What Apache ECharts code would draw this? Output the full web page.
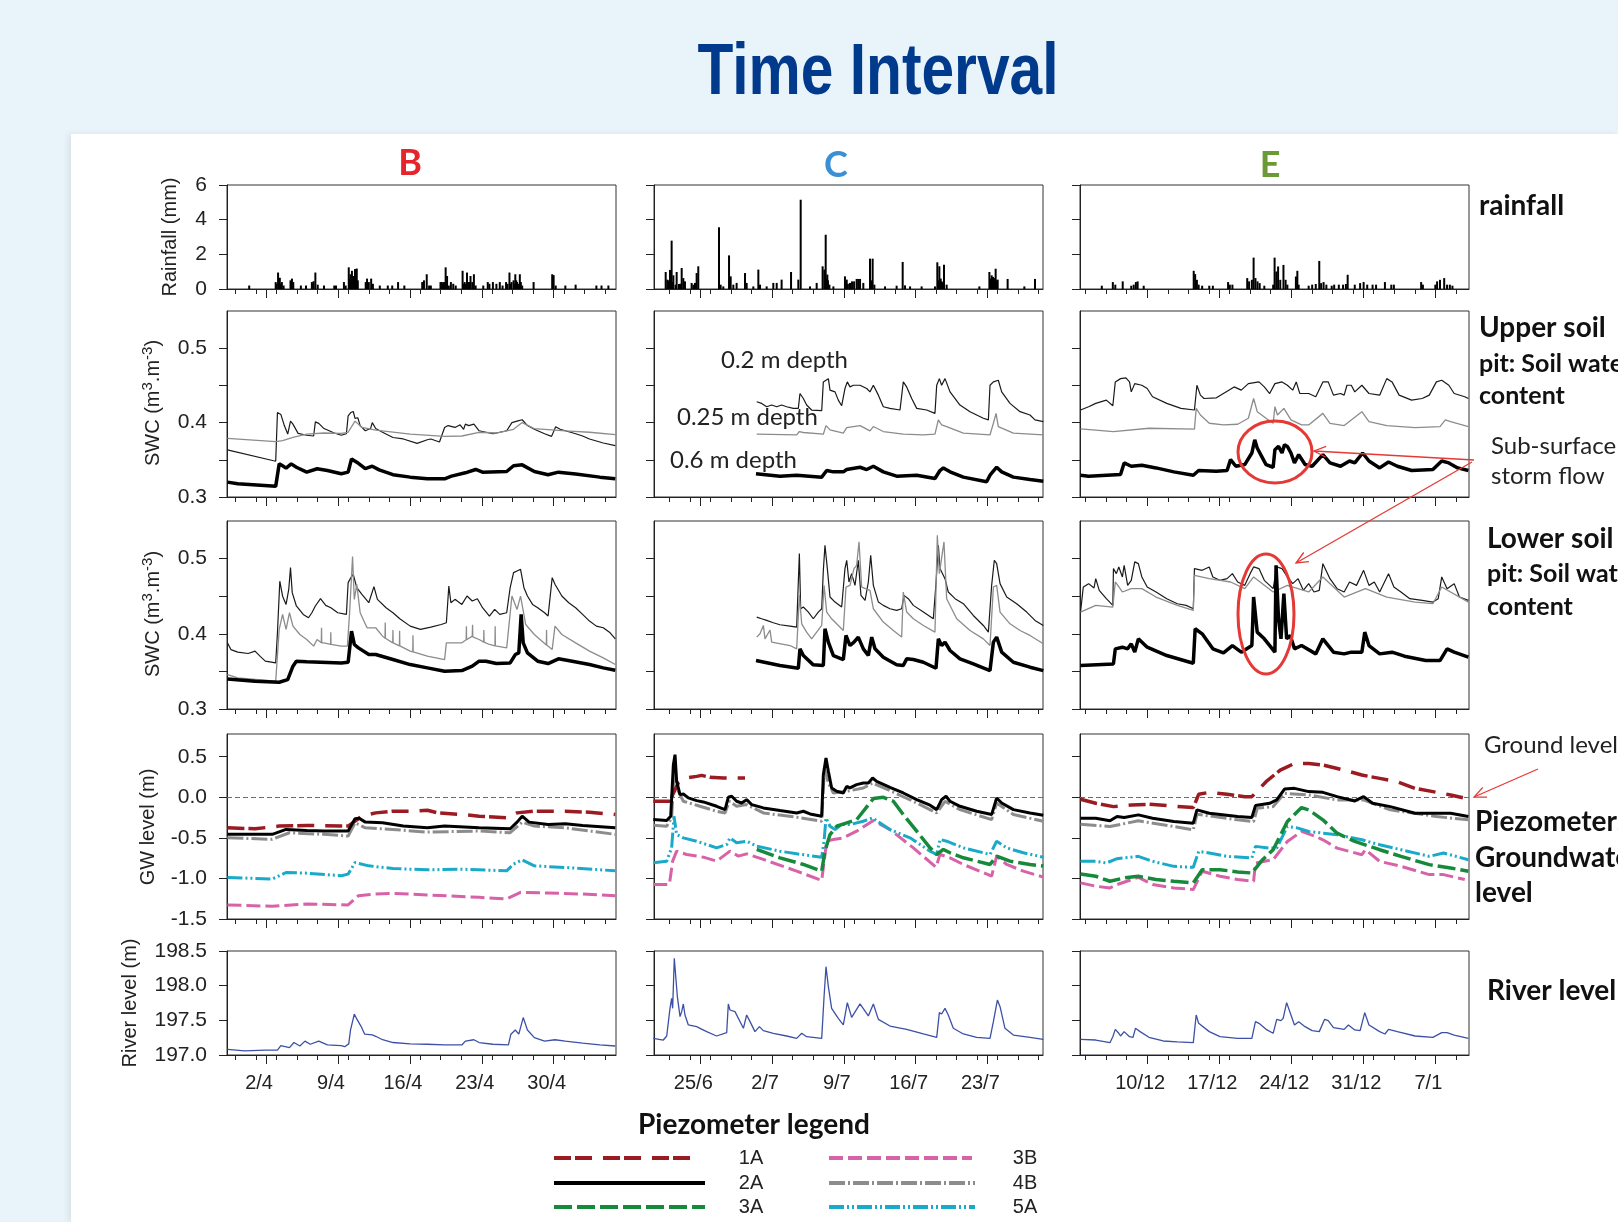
<!DOCTYPE html>
<html><head><meta charset="utf-8">
<script src="https://cdn.jsdelivr.net/npm/echarts@6/dist/echarts.min.js"></script>
<style>
html,body{margin:0;padding:0;background:#e9f3fa;overflow:hidden;width:1618px;height:1222px;}
#panel{position:absolute;left:71px;top:134px;width:1547px;height:1088px;background:#fff;box-shadow:-3px 0 6px rgba(0,0,0,0.07);}
#chart{position:absolute;left:0;top:0;width:1618px;height:1222px;}
</style></head>
<body><div id="panel"></div><div id="chart"></div>
<script>
// ---------------- tick labels / axes ----------------
const B_majorTicks=[0,7,14,21,28];
const B_tickLabels=['2/4','9/4','16/4','23/4','30/4'];
const B_minorTicks=[-3,-1,1,3,5,8,10,12,15,17,19,22,24,26,29,31,33];
const B_range=[-3.8,34.06];
const C_majorTicks=[0,7,14,21,28];
const C_tickLabels=['25/6','2/7','9/7','16/7','23/7'];
const C_minorTicks=[-3,-1,1,3,5,9,11,13,15,17,19,23,25,27,29,31,33];
const C_range=[-4.52,33.43];
const E_majorTicks=[0,7,14,21,28];
const E_tickLabels=['10/12','17/12','24/12','31/12','7/1'];
const E_minorTicks=[-6,-4,-2,2,4,6,8,10,12,16,18,20,22,24,26,30];
const E_range=[-6.53,31.27];
const RAIN_TICKS=[0,2,4,6];
const SWC_TICKS=[0.3,0.35,0.4,0.45,0.5];
const SWC_LABELS=[0.3,0.4,0.5];
const GW_TICKS=[-1.5,-1,-0.5,0,0.5];
const RIVER_TICKS=[197,197.5,198,198.5];

// ---------------- column B (days from 2/4) ----------------
const B_rain=[[-1.64,0.2],[0.94,0.4],[1.0,0.3],[1.17,0.95],[1.25,0.5],[1.34,0.65],[1.45,0.3],[1.54,0.4],[1.71,0.2],[2.38,0.5],[2.45,0.3],[2.52,0.6],[2.65,0.4],[3.39,0.2],[3.89,0.2],[4.46,0.4],[4.55,0.3],[4.63,0.45],[4.8,0.95],[5.03,0.25],[5.64,0.2],[6.64,0.2],[6.81,0.2],[7.58,0.4],[7.75,0.2],[8.05,1.25],[8.1,0.6],[8.22,0.85],[8.3,0.5],[8.36,1.05],[8.49,0.75],[8.55,0.6],[8.66,1.15],[8.75,0.5],[8.83,1.18],[8.93,0.5],[9.7,0.4],[9.83,0.6],[10.0,0.4],[10.23,0.6],[10.4,0.3],[11.07,0.2],[11.85,0.2],[12.28,0.2],[12.85,0.4],[13.46,0.2],[15.2,0.4],[15.37,0.5],[15.64,0.85],[15.87,0.2],[16.04,0.2],[16.98,0.4],[17.11,0.4],[17.2,0.3],[17.28,0.4],[17.4,0.4],[17.48,1.25],[17.55,0.45],[17.62,0.75],[17.79,0.2],[17.99,0.4],[18.22,0.3],[18.46,0.2],[19.13,1.05],[19.2,0.3],[19.33,0.4],[19.45,0.3],[19.56,0.95],[19.65,0.4],[19.77,0.4],[19.9,0.75],[20.07,0.4],[20.23,0.85],[20.4,0.2],[21.14,0.2],[21.58,0.4],[21.74,0.3],[22.08,0.4],[22.42,0.3],[22.75,0.4],[23.02,0.2],[23.36,0.4],[23.5,0.3],[23.69,0.95],[23.8,0.3],[23.89,0.4],[24.09,0.5],[24.15,0.3],[24.26,0.85],[24.35,0.5],[24.43,0.4],[24.55,0.3],[24.7,0.85],[24.8,0.4],[24.93,0.2],[26.04,0.4],[27.85,0.85],[27.99,0.8],[28.19,0.2],[29.13,0.2],[30.13,0.25],[32.15,0.2],[32.65,0.2],[33.32,0.2]];
const B_up20=[[-3.76,0.3633],[0.94,0.348],[1.11,0.4136],[1.44,0.411],[1.78,0.396],[2.11,0.3846],[2.38,0.402],[2.62,0.398],[3.12,0.3855],[3.96,0.383],[4.63,0.382],[4.8,0.401],[5.13,0.399],[5.64,0.392],[6.64,0.386],[7.32,0.383],[7.82,0.385],[7.99,0.409],[8.26,0.4136],[8.49,0.415],[8.66,0.4056],[8.93,0.4065],[9.16,0.396],[9.66,0.389],[10.17,0.392],[10.34,0.4],[10.67,0.392],[11.34,0.387],[12.35,0.38],[13.36,0.378],[14.7,0.372],[15.7,0.377],[16.04,0.378],[16.88,0.374],[17.38,0.3935],[17.72,0.396],[18.39,0.3935],[18.89,0.397],[19.23,0.391],[19.4,0.398],[19.73,0.396],[20.23,0.398],[20.74,0.389],[21.41,0.387],[22.08,0.385],[22.75,0.387],[23.42,0.389],[23.93,0.4],[24.43,0.402],[24.93,0.4038],[25.44,0.396],[26.11,0.391],[27.11,0.385],[27.79,0.3815],[28.19,0.3944],[28.62,0.391],[29.13,0.389],[30.13,0.385],[30.81,0.382],[31.48,0.378],[32.82,0.3726],[33.99,0.369]];
const B_up25=[[-3.76,0.3788],[0.94,0.3744],[1.61,0.3757],[2.62,0.38],[3.96,0.3846],[5.64,0.386],[7.32,0.3855],[7.99,0.387],[8.66,0.402],[9.33,0.3935],[10.67,0.39],[14.03,0.3846],[17.38,0.3815],[19.06,0.382],[20.74,0.387],[22.42,0.386],[24.09,0.391],[24.93,0.4],[26.11,0.392],[29.13,0.389],[31.48,0.387],[33.99,0.3837]];
const B_up60=[[-3.76,0.32],[-2.75,0.3178],[0.94,0.3143],[1.28,0.3445],[1.61,0.342],[1.95,0.3388],[2.45,0.3445],[2.95,0.34],[3.96,0.3334],[4.97,0.338],[5.97,0.3356],[7.32,0.3312],[7.99,0.3334],[8.32,0.3512],[8.83,0.3468],[9.66,0.338],[10.34,0.3414],[11.01,0.3365],[12.35,0.33],[14.03,0.3267],[15.7,0.3245],[17.38,0.3245],[18.05,0.328],[19.4,0.3325],[20.4,0.337],[21.07,0.3334],[23.42,0.3343],[24.09,0.342],[24.93,0.3432],[26.11,0.3343],[27.45,0.33],[28.46,0.3334],[30.13,0.331],[32.48,0.3267],[33.99,0.3245]];
const B_lo20=[[-3.76,0.388],[-3.42,0.379],[-2.75,0.3756],[-1.74,0.3738],[-1.07,0.377],[-0.57,0.37],[-0.07,0.3636],[0.94,0.3613],[1.11,0.4013],[1.34,0.47],[1.61,0.45],[1.95,0.439],[2.21,0.459],[2.38,0.488],[2.55,0.4547],[2.95,0.437],[3.62,0.4258],[4.13,0.4213],[4.46,0.428],[4.8,0.437],[5.3,0.4467],[5.81,0.4378],[6.31,0.4347],[6.98,0.428],[7.82,0.4258],[7.99,0.468],[8.26,0.4747],[8.49,0.479],[8.83,0.4613],[9.33,0.4524],[10.0,0.4413],[10.5,0.4627],[10.84,0.4458],[11.68,0.4347],[12.35,0.428],[13.02,0.42],[14.03,0.4102],[15.03,0.4058],[16.04,0.4089],[17.05,0.4124],[17.55,0.4147],[17.79,0.4636],[17.99,0.4413],[18.39,0.4458],[19.06,0.4391],[19.56,0.4502],[20.07,0.4436],[20.57,0.4467],[21.07,0.4347],[21.74,0.4236],[22.25,0.4324],[22.75,0.4258],[23.42,0.428],[23.76,0.4613],[24.09,0.4813],[24.43,0.4836],[24.77,0.4858],[25.1,0.4613],[25.44,0.4502],[25.94,0.4391],[26.44,0.4347],[27.11,0.428],[27.45,0.4236],[27.85,0.4747],[28.12,0.4658],[28.79,0.4502],[29.46,0.4413],[30.13,0.4347],[30.81,0.4258],[31.48,0.4169],[32.15,0.4102],[32.82,0.408],[33.49,0.4013],[33.99,0.3933]];
const B_lo25=[[-3.76,0.3458],[-2.75,0.3413],[-0.74,0.339],[0.94,0.3369],[1.28,0.4058],[1.61,0.4258],[1.95,0.4058],[2.28,0.428],[2.62,0.4102],[3.29,0.3991],[3.96,0.3924],[4.63,0.3836],[4.97,0.3924],[5.38,0.388],[5.4,0.408],[5.42,0.388],[5.64,0.388],[6.28,0.386],[6.3,0.402],[6.32,0.386],[7.32,0.3836],[7.92,0.3836],[8.15,0.4324],[8.42,0.5027],[8.59,0.4458],[8.83,0.4658],[9.16,0.428],[9.83,0.408],[10.67,0.408],[11.34,0.3969],[11.58,0.394],[11.6,0.415],[11.62,0.394],[12.33,0.388],[12.35,0.405],[12.37,0.388],[12.98,0.384],[13.0,0.404],[13.02,0.384],[14.03,0.3769],[14.28,0.376],[14.3,0.398],[14.32,0.376],[15.7,0.3702],[17.38,0.3658],[17.55,0.388],[17.72,0.388],[19.06,0.388],[19.48,0.392],[19.5,0.41],[19.52,0.392],[20.07,0.3969],[20.1,0.412],[20.12,0.396],[20.74,0.3924],[21.18,0.389],[21.2,0.405],[21.22,0.389],[21.74,0.3858],[22.28,0.384],[22.3,0.41],[22.32,0.384],[23.42,0.3813],[23.93,0.4502],[24.43,0.4324],[24.77,0.4502],[25.27,0.4124],[26.11,0.3991],[27.28,0.385],[27.3,0.405],[27.32,0.385],[27.45,0.3836],[27.85,0.3791],[28.12,0.4102],[28.79,0.3991],[30.13,0.388],[31.48,0.3769],[32.82,0.368],[33.99,0.3591]];
const B_lo60=[[-3.76,0.34],[-1.07,0.3369],[1.28,0.3356],[2.11,0.339],[2.62,0.3569],[2.95,0.3636],[3.96,0.3627],[5.3,0.3622],[7.32,0.3613],[7.99,0.3622],[8.32,0.4036],[8.59,0.3858],[8.99,0.3813],[10.0,0.3724],[10.67,0.3724],[12.35,0.3658],[14.03,0.3591],[15.7,0.3547],[17.38,0.3502],[19.06,0.3511],[20.07,0.3569],[20.74,0.3636],[21.41,0.3636],[22.42,0.3604],[23.76,0.3613],[24.26,0.3724],[24.6,0.3747],[24.83,0.4258],[25.03,0.388],[25.44,0.3747],[26.44,0.3636],[27.45,0.3604],[28.46,0.3667],[29.8,0.3636],[31.48,0.3591],[32.82,0.3547],[33.99,0.3516]];
const B_gw1A=[[-3.76,-0.376],[-1.07,-0.388],[1.28,-0.355],[3.96,-0.347],[7.32,-0.355],[7.99,-0.355],[9.33,-0.233],[10.67,-0.192],[12.35,-0.171],[14.03,-0.171],[15.7,-0.159],[16.71,-0.192],[19.06,-0.212],[20.74,-0.233],[23.42,-0.253],[24.43,-0.192],[26.11,-0.171],[29.13,-0.171],[31.48,-0.184],[33.99,-0.212]];
const B_gw2A=[[-3.76,-0.457],[0.6,-0.457],[1.95,-0.396],[3.96,-0.408],[5.64,-0.416],[7.99,-0.416],[8.66,-0.265],[9.06,-0.257],[9.66,-0.306],[11.34,-0.314],[13.36,-0.355],[15.7,-0.376],[17.38,-0.355],[20.74,-0.376],[23.76,-0.388],[24.43,-0.306],[24.93,-0.233],[25.6,-0.306],[27.45,-0.335],[29.13,-0.327],[30.81,-0.347],[33.99,-0.376]];
const B_gw4B=[[-3.76,-0.498],[0.6,-0.518],[2.28,-0.437],[5.64,-0.457],[7.99,-0.478],[8.66,-0.314],[9.66,-0.376],[12.35,-0.396],[15.7,-0.429],[20.74,-0.416],[23.76,-0.437],[24.93,-0.306],[26.11,-0.355],[29.13,-0.376],[33.99,-0.457]];
const B_gw5A=[[-3.76,-0.988],[0.6,-1.008],[1.95,-0.927],[3.96,-0.935],[7.32,-0.967],[7.99,-0.947],[8.66,-0.804],[10.0,-0.845],[12.35,-0.878],[15.7,-0.894],[19.06,-0.886],[23.42,-0.906],[24.09,-0.824],[24.93,-0.771],[26.11,-0.845],[29.13,-0.865],[33.99,-0.906]];
const B_gw3B=[[-3.76,-1.327],[0.6,-1.343],[3.96,-1.314],[7.99,-1.327],[8.99,-1.212],[10.67,-1.192],[12.35,-1.184],[15.7,-1.204],[20.74,-1.233],[23.42,-1.253],[24.77,-1.171],[27.45,-1.18],[30.81,-1.192],[33.99,-1.212]];
const B_river=[[-3.76,197.08],[-2.08,197.06],[-0.07,197.07],[1.11,197.07],[1.44,197.135],[2.28,197.106],[2.72,197.18],[3.29,197.13],[3.79,197.2],[4.3,197.155],[5.13,197.2],[5.97,197.145],[7.32,197.135],[7.65,197.12],[8.05,197.16],[8.22,197.36],[8.59,197.59],[8.83,197.52],[9.26,197.41],[9.6,197.3],[10.34,197.29],[10.67,197.27],[11.34,197.22],[12.35,197.18],[14.03,197.16],[15.7,197.155],[17.38,197.145],[19.06,197.145],[19.4,197.2],[20.23,197.22],[20.74,197.18],[22.08,197.155],[23.59,197.145],[23.83,197.3],[24.26,197.36],[24.6,197.3],[25.03,197.54],[25.44,197.36],[26.11,197.25],[27.11,197.2],[28.12,197.22],[29.13,197.2],[30.81,197.17],[32.48,197.145],[33.99,197.13]];

// ---------------- column C (days from 25/6) ----------------
const C_rain=[[-3.38,0.98],[-3.22,0.54],[-3.1,0.5],[-2.96,1.1],[-2.8,2.79],[-2.7,0.4],[-2.63,0.79],[-2.41,0.25],[-2.31,0.98],[-2.08,0.29],[-1.95,0.3],[-1.82,1.21],[-1.66,0.63],[-1.5,0.44],[-0.85,0.35],[-0.68,0.25],[-0.52,0.35],[-0.36,0.92],[-0.2,1.31],[1.82,3.56],[1.98,0.25],[2.24,0.15],[2.8,1.94],[2.96,0.73],[3.22,0.25],[3.54,0.35],[4.36,0.92],[4.52,0.35],[5.17,0.15],[5.66,1.12],[5.82,0.25],[6.47,0.15],[7.12,0.35],[7.45,0.35],[7.93,0.54],[8.85,0.98],[9.56,0.54],[9.79,5.15],[10.7,0.15],[11.35,0.35],[11.93,1.31],[12.1,1.12],[12.23,3.13],[12.3,0.6],[12.39,0.83],[12.45,0.5],[12.59,0.25],[12.98,0.15],[14.11,0.73],[14.2,0.4],[14.28,0.54],[14.4,0.3],[14.6,0.35],[14.8,0.44],[15.0,0.44],[15.25,0.58],[15.4,0.58],[15.58,0.58],[15.9,0.35],[16.55,1.75],[16.65,0.5],[16.81,1.75],[16.98,0.25],[18.02,0.15],[19.15,0.19],[19.74,1.56],[19.97,0.21],[20.46,0.15],[21.59,0.15],[22.89,0.15],[23.12,1.54],[23.2,0.5],[23.32,1.31],[23.45,0.6],[23.54,0.44],[23.65,0.4],[23.77,1.4],[24.03,0.25],[27.22,0.15],[28.2,0.98],[28.3,0.6],[28.42,0.79],[28.55,0.7],[28.65,0.63],[28.81,1.17],[28.9,0.5],[29.01,0.54],[29.98,0.58],[31.61,0.15],[32.65,0.58]];
const C_up20=[[5.5,0.428],[5.98,0.4258],[6.47,0.4213],[6.96,0.4236],[7.45,0.4213],[7.93,0.4236],[8.42,0.4213],[9.07,0.4191],[9.56,0.4191],[9.72,0.4391],[10.05,0.4324],[10.37,0.4236],[10.86,0.4169],[11.84,0.416],[12.0,0.4547],[12.16,0.4569],[12.49,0.4591],[12.65,0.4436],[13.14,0.4413],[13.46,0.4302],[13.79,0.4227],[14.11,0.4458],[14.34,0.4547],[14.6,0.448],[14.93,0.4502],[15.58,0.4502],[16.23,0.4458],[16.55,0.4413],[16.88,0.4502],[17.37,0.4369],[17.85,0.4213],[18.5,0.4191],[19.48,0.4169],[19.8,0.4547],[20.13,0.448],[20.62,0.4324],[21.11,0.4191],[22.08,0.4169],[22.89,0.4124],[23.06,0.4502],[23.32,0.4591],[23.54,0.4502],[23.87,0.4591],[24.36,0.4413],[25.33,0.4236],[26.31,0.4147],[27.61,0.4058],[28.1,0.4036],[28.26,0.4502],[28.59,0.4547],[29.07,0.4569],[29.4,0.4413],[30.21,0.4258],[31.19,0.4147],[32.16,0.4102],[32.65,0.4036],[33.46,0.4013]];
const C_up25=[[5.5,0.3844],[9.4,0.3836],[9.66,0.388],[10.05,0.3867],[12.0,0.3844],[12.26,0.396],[12.65,0.3902],[13.95,0.3858],[14.28,0.3933],[15.58,0.396],[16.55,0.3889],[16.88,0.3947],[17.85,0.388],[19.8,0.3844],[21.76,0.3836],[22.89,0.3844],[23.22,0.4036],[23.54,0.3969],[24.03,0.3947],[25.66,0.3858],[28.26,0.3836],[28.59,0.3991],[28.85,0.4124],[29.07,0.3947],[30.54,0.3858],[33.46,0.3836]];
const C_up60=[[5.43,0.3311],[7.77,0.328],[9.4,0.3293],[11.84,0.3267],[12.33,0.3356],[12.98,0.3338],[13.95,0.3338],[14.28,0.3369],[15.58,0.34],[16.23,0.3369],[16.88,0.3413],[17.85,0.3338],[19.15,0.328],[21.11,0.3293],[22.89,0.3249],[23.38,0.3356],[23.71,0.3391],[24.36,0.3338],[25.66,0.3267],[27.93,0.3204],[28.26,0.3293],[28.91,0.34],[29.4,0.3338],[30.54,0.3267],[32.16,0.3236],[33.46,0.3213]];
const C_lo20=[[5.5,0.4222],[5.98,0.42],[6.47,0.4178],[7.12,0.4147],[7.77,0.412],[8.75,0.4102],[9.4,0.4089],[9.66,0.5067],[9.79,0.4333],[10.05,0.4356],[10.54,0.4289],[11.02,0.42],[11.51,0.4289],[11.84,0.4333],[12.0,0.4844],[12.16,0.5178],[12.39,0.4867],[12.65,0.4489],[13.14,0.4422],[13.79,0.4356],[14.11,0.4867],[14.28,0.4978],[14.5,0.4689],[14.76,0.48],[15.09,0.4644],[15.41,0.4978],[15.67,0.4511],[16.07,0.4444],[16.39,0.4689],[16.62,0.5044],[16.88,0.4644],[17.37,0.4422],[17.85,0.4378],[18.5,0.4333],[19.15,0.4311],[19.64,0.4333],[19.87,0.4511],[20.29,0.4467],[20.78,0.4378],[21.76,0.4289],[22.73,0.42],[22.99,0.4667],[23.22,0.5178],[23.38,0.4867],[23.87,0.4733],[24.19,0.4556],[24.85,0.4467],[25.66,0.44],[26.63,0.4244],[27.61,0.4111],[28.1,0.4022],[28.42,0.4644],[28.68,0.4978],[28.91,0.4933],[29.24,0.4667],[29.89,0.4489],[30.86,0.44],[31.84,0.4289],[32.65,0.4178],[33.46,0.4111]];
const C_lo25=[[5.5,0.3956],[5.82,0.4],[6.15,0.4111],[6.31,0.3933],[6.8,0.405],[6.96,0.3889],[8.75,0.3844],[9.4,0.38],[9.66,0.4511],[9.89,0.4133],[10.37,0.4022],[10.86,0.3933],[11.84,0.4111],[12.07,0.4644],[12.33,0.4289],[12.81,0.42],[13.95,0.4044],[14.21,0.4622],[14.6,0.4644],[14.99,0.4867],[15.25,0.4911],[15.48,0.5222],[15.74,0.4622],[16.55,0.4578],[16.88,0.4333],[17.85,0.4156],[18.83,0.4044],[19.64,0.3956],[19.8,0.4556],[20.13,0.4289],[20.78,0.42],[21.76,0.4111],[22.89,0.4022],[23.12,0.5311],[23.32,0.48],[23.77,0.5222],[24.03,0.4467],[25.01,0.42],[26.31,0.4044],[27.61,0.3933],[28.26,0.3844],[28.59,0.4622],[28.91,0.4644],[29.24,0.4289],[30.21,0.4133],[31.19,0.4044],[32.16,0.3978],[33.46,0.3867]];
const C_lo60=[[5.43,0.3644],[7.77,0.3578],[9.56,0.3542],[9.72,0.38],[10.05,0.3711],[11.02,0.3587],[12.0,0.3578],[12.16,0.4067],[12.49,0.3889],[12.98,0.3711],[13.95,0.3658],[14.21,0.3978],[14.6,0.3844],[14.99,0.3889],[15.41,0.3956],[15.9,0.38],[16.39,0.3711],[16.72,0.3956],[17.04,0.38],[17.85,0.3689],[19.15,0.3587],[19.8,0.3578],[20.13,0.3667],[20.78,0.3658],[21.76,0.3622],[22.99,0.3542],[23.22,0.3933],[23.54,0.3844],[23.87,0.3889],[24.36,0.3778],[25.33,0.3667],[26.63,0.36],[28.26,0.3511],[28.59,0.3889],[28.91,0.3956],[29.4,0.3756],[30.54,0.3622],[32.16,0.3556],[33.46,0.3511]];
const C_gw1A=[[-4.59,-0.049],[-2.96,-0.049],[-2.7,0.033],[-2.15,0.176],[-1.33,0.238],[-0.36,0.258],[0.13,0.27],[0.94,0.246],[2.24,0.238],[4.36,0.238]];
const C_gw2A=[[-4.59,-0.275],[-3.28,-0.287],[-2.89,-0.234],[-2.63,0.402],[-2.47,0.525],[-2.31,0.197],[-1.98,0.033],[-1.66,0.041],[-1.17,-0.008],[-0.36,-0.041],[0.29,-0.057],[1.59,-0.111],[2.41,-0.152],[2.73,0.0],[3.06,0.012],[3.54,-0.049],[4.03,-0.07],[4.52,-0.029],[5.01,-0.09],[6.15,-0.131],[7.77,-0.164],[9.4,-0.193],[10.05,-0.172],[10.7,-0.205],[11.84,-0.234],[12.0,0.279],[12.26,0.484],[12.49,0.32],[12.81,0.115],[13.3,0.074],[13.95,0.053],[14.28,0.135],[14.6,0.115],[15.25,0.156],[15.9,0.176],[16.39,0.176],[16.81,0.238],[17.2,0.197],[18.5,0.123],[19.8,0.053],[21.11,-0.029],[22.41,-0.098],[23.06,-0.152],[23.54,-0.029],[23.97,0.012],[24.36,-0.049],[25.33,-0.111],[26.96,-0.172],[28.42,-0.213],[28.91,-0.008],[29.4,-0.07],[30.54,-0.152],[32.16,-0.193],[33.46,-0.221]];
const C_gw4B=[[-4.59,-0.344],[-3.28,-0.357],[-2.8,-0.254],[-2.54,0.361],[-2.31,0.115],[-1.66,-0.049],[-0.36,-0.098],[1.59,-0.172],[2.41,-0.193],[2.83,-0.049],[3.54,-0.111],[4.52,-0.09],[6.15,-0.193],[9.4,-0.246],[11.84,-0.295],[12.1,0.361],[12.49,0.176],[12.98,0.053],[14.28,0.074],[15.9,0.115],[16.81,0.176],[18.5,0.082],[21.11,-0.07],[23.06,-0.193],[23.87,-0.049],[25.33,-0.152],[28.42,-0.275],[28.91,-0.07],[30.54,-0.213],[33.46,-0.295]];
const C_gw5A=[[-4.59,-0.807],[-3.28,-0.787],[-2.8,-0.623],[-2.57,-0.234],[-2.31,-0.459],[-1.66,-0.5],[-0.36,-0.541],[1.59,-0.623],[2.57,-0.582],[2.89,-0.5],[3.54,-0.561],[4.52,-0.541],[5.5,-0.602],[7.77,-0.664],[9.4,-0.697],[11.84,-0.738],[12.07,-0.541],[12.26,-0.254],[12.65,-0.357],[13.14,-0.398],[13.79,-0.336],[14.6,-0.336],[15.9,-0.295],[16.81,-0.254],[18.5,-0.398],[20.46,-0.5],[22.41,-0.664],[23.06,-0.705],[23.38,-0.52],[24.03,-0.541],[25.66,-0.623],[28.26,-0.705],[28.91,-0.541],[29.89,-0.623],[31.51,-0.684],[33.46,-0.738]];
const C_gw3B=[[-4.59,-1.074],[-3.02,-1.074],[-2.7,-0.787],[-2.31,-0.664],[-1.33,-0.705],[0.29,-0.738],[1.59,-0.787],[2.89,-0.664],[3.71,-0.725],[4.52,-0.697],[6.15,-0.766],[9.4,-0.91],[11.84,-1.025],[12.33,-0.541],[12.98,-0.52],[13.95,-0.5],[15.25,-0.418],[16.88,-0.287],[18.5,-0.398],[20.78,-0.623],[22.99,-0.861],[23.38,-0.705],[24.36,-0.746],[25.66,-0.828],[28.42,-0.971],[28.91,-0.725],[29.89,-0.828],[31.51,-0.91],[33.46,-0.984]];
const C_gw3A=[[5.5,-0.643],[7.77,-0.746],[10.05,-0.828],[11.84,-0.91],[12.16,-0.664],[12.65,-0.459],[13.3,-0.357],[14.28,-0.316],[15.25,-0.275],[15.9,-0.172],[16.88,-0.016],[17.85,0.0],[18.83,-0.049],[19.8,-0.213],[21.11,-0.418],[22.41,-0.623],[23.06,-0.705],[23.71,-0.643],[24.36,-0.684],[25.66,-0.746],[28.26,-0.828],[28.91,-0.725],[30.21,-0.787],[32.16,-0.828],[33.46,-0.848]];
const C_river=[[-4.59,197.24],[-3.61,197.216],[-3.28,197.274],[-2.96,197.673],[-2.8,197.817],[-2.7,197.673],[-2.54,198.394],[-2.41,198.394],[-2.24,197.841],[-1.98,197.553],[-1.82,197.625],[-1.66,197.736],[-1.5,197.577],[-1.17,197.433],[-0.36,197.409],[-0.03,197.385],[0.62,197.337],[1.59,197.274],[2.57,197.322],[2.73,197.736],[2.89,197.649],[3.38,197.625],[4.2,197.385],[4.52,197.577],[4.85,197.481],[5.33,197.337],[5.76,197.409],[6.15,197.351],[7.12,197.313],[8.42,197.274],[9.4,197.24],[9.89,197.313],[10.37,197.264],[11.84,197.24],[12.07,197.841],[12.26,198.274],[12.49,197.986],[12.81,197.673],[13.46,197.529],[13.95,197.433],[14.34,197.755],[14.76,197.543],[15.58,197.736],[16.39,197.563],[16.88,197.736],[17.37,197.514],[18.5,197.418],[20.13,197.37],[21.76,197.303],[23.06,197.255],[23.32,197.611],[23.54,197.591],[23.87,197.673],[24.19,197.577],[24.68,197.385],[25.66,197.303],[26.96,197.255],[28.26,197.24],[28.59,197.481],[28.98,197.793],[29.24,197.697],[29.72,197.385],[30.54,197.288],[32.16,197.255],[33.46,197.226]];

// ---------------- column E (days from 10/12) ----------------
const E_rain=[[-4.41,0.19],[-3.34,0.4],[-3.1,0.25],[-2.38,0.44],[-1.55,0.19],[-1.31,0.25],[-1.1,0.4],[-0.93,0.44],[-0.34,0.19],[4.52,1.05],[4.66,0.86],[4.83,0.53],[5.0,0.25],[5.34,0.19],[6.03,0.19],[6.38,0.19],[7.86,0.4],[8.03,0.25],[8.28,0.25],[9.72,0.63],[9.9,0.44],[10.17,0.53],[10.34,1.81],[10.52,0.63],[10.72,0.44],[10.93,0.34],[11.38,0.19],[12.24,0.25],[12.38,1.81],[12.55,1.01],[12.72,1.3],[12.93,0.53],[13.24,1.39],[13.45,0.53],[13.62,0.25],[14.45,0.72],[14.59,1.05],[14.72,0.25],[15.69,0.19],[16.03,0.25],[16.38,0.29],[16.72,1.62],[16.9,0.34],[17.14,0.4],[17.41,0.25],[17.93,0.19],[18.17,0.25],[18.62,0.25],[19.03,0.25],[19.31,0.29],[19.48,0.82],[20.17,0.25],[20.69,0.34],[21.03,0.4],[21.38,0.25],[21.9,0.25],[22.24,0.25],[23.1,0.4],[23.72,0.25],[23.97,0.25],[26.62,0.4],[26.79,0.25],[28.0,0.25],[28.17,0.44],[28.45,0.53],[28.86,0.63],[29.14,0.25],[29.41,0.25],[29.66,0.19]];
const E_up20=[[-6.48,0.4169],[-5.69,0.4213],[-5.0,0.4258],[-3.97,0.4302],[-3.34,0.4227],[-3.1,0.4547],[-2.59,0.4591],[-2.07,0.46],[-1.72,0.4547],[-1.55,0.4413],[-1.21,0.4524],[-0.52,0.4502],[0.0,0.4458],[0.52,0.4347],[1.9,0.4258],[3.28,0.4191],[4.59,0.4169],[4.83,0.4502],[5.17,0.4369],[5.52,0.4324],[6.72,0.4333],[7.93,0.4436],[8.45,0.448],[9.14,0.4436],[9.83,0.4524],[10.86,0.4547],[11.38,0.448],[11.9,0.4391],[12.41,0.4524],[13.1,0.4547],[13.62,0.4502],[14.14,0.4436],[14.48,0.4547],[14.83,0.4391],[15.69,0.4391],[16.38,0.4347],[17.07,0.4547],[17.59,0.4547],[18.1,0.4369],[18.79,0.4391],[19.14,0.4369],[19.41,0.4502],[19.83,0.4502],[20.17,0.4413],[20.86,0.4502],[21.55,0.4391],[22.59,0.4369],[23.28,0.4591],[23.79,0.4547],[24.48,0.4369],[25.69,0.4302],[26.72,0.4324],[27.41,0.4369],[28.1,0.4547],[28.62,0.4569],[29.31,0.4502],[29.83,0.4391],[30.86,0.4347],[31.21,0.4324]];
const E_up25=[[-6.48,0.3916],[-3.28,0.388],[0.17,0.3924],[4.59,0.3911],[4.76,0.4191],[5.17,0.4102],[6.03,0.3991],[7.41,0.3969],[8.79,0.3978],[9.83,0.4058],[10.34,0.4324],[10.69,0.4147],[11.55,0.4058],[12.24,0.3991],[12.41,0.4213],[12.66,0.4102],[13.28,0.4191],[13.97,0.4036],[15.0,0.3969],[15.69,0.3969],[17.07,0.4124],[17.76,0.3991],[19.14,0.396],[20.86,0.4147],[21.55,0.4013],[23.28,0.396],[26.03,0.3933],[28.45,0.3947],[28.97,0.4036],[29.48,0.4013],[31.21,0.3947]];
const E_up60=[[-6.48,0.3293],[-5.69,0.328],[-2.59,0.3302],[-2.24,0.3458],[-1.55,0.3413],[-0.52,0.3427],[0.86,0.3391],[2.59,0.3338],[4.48,0.3293],[5.0,0.3356],[6.72,0.3347],[7.76,0.3356],[8.1,0.3502],[8.62,0.3413],[9.48,0.3436],[10.17,0.3591],[10.45,0.3769],[10.69,0.3658],[11.03,0.3569],[11.55,0.3436],[12.24,0.34],[12.41,0.3636],[12.76,0.368],[13.1,0.3591],[13.34,0.3702],[13.62,0.368],[13.97,0.3591],[14.31,0.3458],[14.72,0.3569],[15.34,0.3436],[16.03,0.3413],[17.07,0.3569],[17.76,0.3458],[18.79,0.3413],[19.66,0.3484],[20.17,0.3458],[20.93,0.3591],[21.55,0.3484],[22.59,0.3391],[23.45,0.3471],[24.31,0.3413],[25.69,0.3356],[27.76,0.3369],[28.62,0.3484],[29.31,0.3458],[30.17,0.3391],[31.21,0.3356]];
const E_lo20=[[-6.48,0.4289],[-6.21,0.4622],[-5.69,0.4667],[-5.17,0.4609],[-5.0,0.4733],[-4.66,0.4578],[-3.97,0.4467],[-3.34,0.4378],[-3.28,0.4867],[-3.0,0.48],[-2.76,0.4889],[-2.41,0.4756],[-2.24,0.4911],[-1.9,0.4644],[-1.55,0.4711],[-1.21,0.4956],[-0.86,0.4933],[-0.52,0.4756],[0.0,0.4622],[0.86,0.4556],[1.9,0.4467],[2.93,0.44],[3.79,0.4378],[4.48,0.4333],[4.59,0.4867],[5.34,0.4844],[6.03,0.4889],[6.38,0.4756],[7.07,0.4711],[7.76,0.4733],[8.28,0.48],[8.79,0.4689],[9.48,0.4644],[10.0,0.48],[10.34,0.4889],[10.86,0.4867],[11.38,0.4711],[12.24,0.46],[12.59,0.4889],[13.1,0.4867],[13.62,0.4756],[14.14,0.4667],[14.66,0.4733],[15.17,0.4578],[15.69,0.4667],[16.21,0.4556],[16.72,0.4578],[17.07,0.4933],[17.76,0.4733],[18.45,0.46],[19.14,0.4556],[19.66,0.4689],[20.34,0.4644],[21.03,0.4844],[21.55,0.4644],[22.07,0.4689],[22.59,0.4556],[23.45,0.48],[23.97,0.4622],[24.66,0.4556],[25.52,0.4467],[26.72,0.4444],[27.76,0.4422],[28.28,0.4467],[28.62,0.4756],[29.14,0.46],[29.83,0.4667],[30.34,0.4489],[31.21,0.4444]];
const E_lo25=[[-6.48,0.4289],[-5.0,0.4378],[-3.34,0.4356],[-3.1,0.4689],[-2.41,0.4556],[-1.55,0.46],[-0.52,0.46],[0.86,0.4489],[2.93,0.4378],[4.48,0.4311],[4.59,0.4778],[6.03,0.4733],[8.1,0.4689],[9.48,0.46],[10.34,0.4756],[12.24,0.4556],[13.62,0.4644],[15.69,0.4556],[17.07,0.4756],[19.14,0.4489],[21.21,0.46],[23.28,0.4489],[26.03,0.4422],[27.76,0.44],[28.62,0.4622],[31.21,0.4422]];
const E_lo60=[[-6.48,0.3578],[-3.28,0.36],[-3.1,0.38],[-2.41,0.3822],[-1.9,0.38],[-1.55,0.3867],[-1.21,0.3756],[-0.86,0.3933],[0.0,0.3822],[1.9,0.3711],[4.48,0.3609],[4.66,0.4067],[5.34,0.4],[6.38,0.38],[7.41,0.3747],[8.28,0.3844],[9.14,0.3756],[10.17,0.3844],[10.34,0.4489],[10.52,0.4489],[10.69,0.4022],[11.38,0.3933],[12.41,0.3756],[12.52,0.4911],[12.76,0.42],[13.0,0.3933],[13.28,0.4533],[13.55,0.3933],[13.9,0.3978],[14.31,0.38],[15.0,0.3844],[16.38,0.3733],[17.07,0.3933],[18.1,0.3756],[19.14,0.3733],[19.83,0.3756],[20.86,0.3756],[21.14,0.4022],[21.55,0.3844],[22.59,0.3733],[23.79,0.3756],[25.0,0.3702],[27.07,0.3644],[28.45,0.3644],[29.14,0.38],[29.83,0.3756],[31.21,0.3689]];
const E_gw1A=[[-6.48,-0.025],[-5.0,-0.074],[-3.28,-0.115],[-1.55,-0.094],[0.17,-0.086],[1.9,-0.102],[4.48,-0.127],[5.0,0.037],[6.03,0.061],[7.76,0.037],[9.48,0.008],[10.17,0.008],[11.55,0.192],[12.93,0.335],[14.31,0.417],[15.69,0.417],[17.07,0.397],[19.14,0.335],[20.86,0.274],[22.59,0.233],[24.31,0.192],[26.03,0.11],[27.76,0.07],[29.48,0.029],[30.86,-0.012]];
const E_gw2A=[[-6.48,-0.258],[-5.0,-0.258],[-3.62,-0.29],[-2.93,-0.237],[-2.24,-0.249],[-0.86,-0.217],[0.52,-0.258],[2.59,-0.299],[4.48,-0.319],[4.83,-0.155],[6.03,-0.196],[8.79,-0.237],[10.17,-0.249],[10.52,-0.102],[11.9,-0.074],[12.59,-0.033],[13.34,0.102],[14.31,0.11],[15.69,0.07],[17.07,0.061],[18.45,0.008],[20.17,-0.045],[21.03,0.008],[21.9,-0.074],[23.62,-0.115],[26.03,-0.196],[28.1,-0.196],[29.48,-0.196],[31.21,-0.237]];
const E_gw4B=[[-6.48,-0.331],[-3.62,-0.36],[-0.86,-0.29],[2.59,-0.36],[4.48,-0.401],[4.83,-0.209],[8.79,-0.278],[10.34,-0.299],[10.69,-0.135],[12.24,-0.115],[13.34,0.049],[15.69,0.029],[18.45,-0.033],[21.03,-0.033],[23.62,-0.155],[28.1,-0.237],[31.21,-0.278]];
const E_gw5A=[[-6.48,-0.789],[-5.0,-0.789],[-3.97,-0.81],[-2.93,-0.757],[-0.86,-0.728],[0.52,-0.789],[2.59,-0.851],[4.48,-0.863],[5.0,-0.667],[6.03,-0.687],[7.76,-0.728],[10.17,-0.748],[10.52,-0.605],[11.9,-0.626],[12.59,-0.626],[13.62,-0.36],[14.66,-0.38],[15.69,-0.421],[17.07,-0.442],[18.45,-0.462],[20.86,-0.524],[22.59,-0.585],[24.66,-0.646],[27.41,-0.728],[28.79,-0.687],[31.21,-0.769]];
const E_gw3A=[[-6.48,-0.945],[-5.0,-0.973],[-3.62,-1.035],[-2.24,-0.994],[-0.86,-0.973],[0.86,-1.014],[2.59,-1.035],[4.48,-1.055],[5.34,-0.892],[7.07,-0.892],[8.79,-0.92],[10.17,-0.933],[11.21,-0.769],[12.24,-0.646],[13.62,-0.299],[15.0,-0.127],[15.69,-0.155],[17.07,-0.278],[18.45,-0.442],[20.17,-0.544],[22.59,-0.646],[24.66,-0.728],[27.41,-0.83],[29.48,-0.871],[31.21,-0.912]];
const E_gw3B=[[-6.48,-1.055],[-5.0,-1.096],[-3.62,-1.117],[-2.93,-1.076],[-0.86,-0.986],[0.52,-1.076],[2.59,-1.117],[4.48,-1.137],[5.34,-0.912],[7.07,-0.973],[8.79,-1.014],[10.34,-1.035],[10.52,-0.81],[12.24,-0.769],[13.62,-0.544],[15.0,-0.421],[16.38,-0.483],[17.07,-0.524],[18.45,-0.626],[20.86,-0.708],[21.21,-0.646],[22.59,-0.789],[24.66,-0.851],[27.41,-0.953],[28.79,-0.953],[30.86,-1.014]];
const E_river=[[-6.48,197.226],[-5.0,197.216],[-3.62,197.178],[-3.34,197.264],[-3.1,197.37],[-2.76,197.313],[-2.59,197.274],[-2.24,197.337],[-1.72,197.264],[-1.38,197.255],[-1.14,197.385],[-0.69,197.337],[0.17,197.255],[1.55,197.202],[2.93,197.188],[4.48,197.178],[4.76,197.577],[5.0,197.457],[6.03,197.337],[7.07,197.264],[8.79,197.24],[10.17,197.24],[10.52,197.481],[10.86,197.457],[11.55,197.37],[12.24,197.313],[12.59,197.514],[13.0,197.495],[13.21,197.529],[13.55,197.755],[13.97,197.577],[14.31,197.433],[14.72,197.481],[15.34,197.409],[16.03,197.351],[16.72,197.337],[17.24,197.514],[17.59,197.495],[18.1,197.394],[19.14,197.37],[19.55,197.433],[20.17,197.361],[20.69,197.351],[21.14,197.611],[21.55,197.433],[22.59,197.337],[23.1,197.303],[23.45,197.37],[24.31,197.337],[26.03,197.274],[27.76,197.255],[28.62,197.322],[29.14,197.322],[29.83,197.288],[31.21,197.24]];

// ---------------- build ----------------
const SANS="'Liberation Sans', Arial, sans-serif";
const CAL="Lato, 'Open Sans', sans-serif";
const AX='#222';
const RED='#e53935';

const cols=[
 {left:227, range:B_range, majors:B_majorTicks, labels:B_tickLabels, minors:B_minorTicks, rain:B_rain, up:[B_up20,B_up25,B_up60], lo:[B_lo20,B_lo25,B_lo60],
  gw:[['3B',B_gw3B],['5A',B_gw5A],['4B',B_gw4B],['1A',B_gw1A],['2A',B_gw2A]], river:B_river},
 {left:654, range:C_range, majors:C_majorTicks, labels:C_tickLabels, minors:C_minorTicks, rain:C_rain, up:[C_up20,C_up25,C_up60], lo:[C_lo20,C_lo25,C_lo60],
  gw:[['3B',C_gw3B],['5A',C_gw5A],['3A',C_gw3A],['4B',C_gw4B],['1A',C_gw1A],['2A',C_gw2A]], river:C_river},
 {left:1080, range:E_range, majors:E_majorTicks, labels:E_tickLabels, minors:E_minorTicks, rain:E_rain, up:[E_up20,E_up25,E_up60], lo:[E_lo20,E_lo25,E_lo60],
  gw:[['3B',E_gw3B],['5A',E_gw5A],['3A',E_gw3A],['4B',E_gw4B],['1A',E_gw1A],['2A',E_gw2A]], river:E_river}
];
const rows=[
 {top:185,height:104,y:{min:0,max:6,ticks:RAIN_TICKS,labels:RAIN_TICKS,dec:0}},
 {top:311,height:186,y:{min:0.3,max:0.55,ticks:SWC_TICKS,labels:SWC_LABELS,dec:1}},
 {top:521,height:188,y:{min:0.3,max:0.55,ticks:SWC_TICKS,labels:SWC_LABELS,dec:1}},
 {top:734,height:185,y:{min:-1.5,max:0.78,ticks:GW_TICKS,labels:GW_TICKS,dec:1}},
 {top:951,height:104,y:{min:197,max:198.5,ticks:RIVER_TICKS,labels:RIVER_TICKS,dec:1}}
];
const gwStyle={
 '3B':{color:'#d862a8',width:3,type:[14,5]},
 '5A':{color:'#19a9c9',width:3,type:[15,3,2,3,2,3]},
 '3A':{color:'#16893b',width:3.5,type:[18,5]},
 '4B':{color:'#8c8c8c',width:3,type:[16,3,2,3]},
 '1A':{color:'#9b1b22',width:3.5,type:[17,4,17,11]},
 '2A':{color:'#000000',width:3,type:'solid'}
};
const swcStyle=[{color:'#1a1a1a',width:1.2},{color:'#8c8c8c',width:1.3},{color:'#000',width:3.5}];

const grid=[],xAxis=[],yAxis=[],series=[];
cols.forEach((c,ci)=>{
 rows.forEach((r,ri)=>{
  const g=ci*5+ri;
  grid.push({left:c.left,top:r.top,width:389,height:r.height,show:true,borderColor:'#333',borderWidth:1,backgroundColor:'rgba(0,0,0,0)',containLabel:false});
  xAxis.push({type:'value',gridIndex:g,position:'bottom',min:c.range[0],max:c.range[1],
   axisLine:{show:true,onZero:false,lineStyle:{color:AX,width:1}},
   axisTick:{show:true,customValues:c.majors,length:9,lineStyle:{color:AX,width:1}},
   axisLabel:{show:ri===4,customValues:c.majors,formatter:(v)=>c.labels[c.majors.indexOf(v)]||'',
     fontFamily:SANS,fontSize:20,color:AX,margin:18,padding:[0,14,0,0]},
   splitLine:{show:false}});
  xAxis.push({type:'value',gridIndex:g,position:'bottom',min:c.range[0],max:c.range[1],
   axisLine:{show:false,onZero:false},
   axisTick:{show:true,customValues:c.minors,length:5,lineStyle:{color:AX,width:1}},
   axisLabel:{show:false},splitLine:{show:false}});
  const yc=r.y;
  yAxis.push({type:'value',gridIndex:g,position:'left',min:yc.min,max:yc.max,
   axisLine:{show:true,onZero:false,lineStyle:{color:AX,width:1}},
   axisTick:{show:true,customValues:yc.ticks,length:8,lineStyle:{color:AX,width:1}},
   axisLabel:{show:ci===0,customValues:yc.labels,formatter:(v)=>v.toFixed(yc.dec),
     fontFamily:SANS,fontSize:21,color:AX,margin:20},
   splitLine:{show:false}});
  const xi=2*g, yi=g;
  if(ri===0){
   series.push({type:'bar',xAxisIndex:xi,yAxisIndex:yi,data:c.rain,barWidth:2,itemStyle:{color:'#000'},silent:true});
  } else if(ri===1||ri===2){
   const arr=ri===1?c.up:c.lo;
   arr.forEach((d,k)=>series.push({type:'line',xAxisIndex:xi,yAxisIndex:yi,data:d,showSymbol:false,symbol:'none',silent:true,
     lineStyle:{color:swcStyle[k].color,width:swcStyle[k].width},z:2+k}));
  } else if(ri===3){
   c.gw.forEach(([key,d],k)=>{
    const s=gwStyle[key];
    const o={type:'line',xAxisIndex:xi,yAxisIndex:yi,data:d,showSymbol:false,symbol:'none',silent:true,
     lineStyle:{color:s.color,width:s.width,type:s.type},z:3+k};
    if(key==='2A'){o.markLine={silent:true,symbol:['none','none'],label:{show:false},
      lineStyle:{color:RED,type:[5,3],width:1.2},data:[{yAxis:0}],z:2};}
    series.push(o);
   });
  } else {
   series.push({type:'line',xAxisIndex:xi,yAxisIndex:yi,data:c.river,showSymbol:false,symbol:'none',silent:true,
    lineStyle:{color:'#3c50a6',width:1.3}});
  }
 });
});

// ---------------- graphic annotations ----------------
function T(text,x,y,o){o=o||{};
 const st={text:text,fill:o.color||'#111',fontSize:o.size||20,fontFamily:o.family||SANS,fontWeight:o.weight||'normal',
  align:o.align||'left',verticalAlign:'middle',textAlign:o.align||'left',textVerticalAlign:'middle'};
 if(o.rich) st.rich=o.rich;
 const el={type:'text',x:x,y:y,rotation:o.rot||0,z:100,silent:true,style:st};
 if(o.scaleX) el.scaleX=o.scaleX;
 return el;
}
function arrow(x1,y1,x2,y2){
 const a=Math.atan2(y2-y1,x2-x1),L=13,w=0.42;
 return [{type:'line',z:100,silent:true,shape:{x1:x1,y1:y1,x2:x2,y2:y2},style:{stroke:RED,lineWidth:1.3}},
  {type:'polyline',z:100,silent:true,shape:{points:[[x2-L*Math.cos(a-w),y2-L*Math.sin(a-w)],[x2,y2],[x2-L*Math.cos(a+w),y2-L*Math.sin(a+w)]]},style:{stroke:RED,lineWidth:1.3,fill:null}}];
}
const R90=Math.PI/2;
const swcRich={a:{fontSize:20,fontFamily:SANS,fill:'#222',lineHeight:26},s:{fontSize:15,fontFamily:SANS,fill:'#222',lineHeight:12,verticalAlign:'top'}};
const swcName='{a|SWC (m}{s|3}{a|.m}{s|-3}{a|)}';
const legendItems=[
 {key:'1A',x1:554,x2:690,y:1158,lx:751},{key:'2A',x1:554,x2:705,y:1183,lx:751},{key:'3A',x1:554,x2:705,y:1207,lx:751},
 {key:'3B',x1:829,x2:972,y:1158,lx:1025},{key:'4B',x1:829,x2:975,y:1183,lx:1025},{key:'5A',x1:829,x2:975,y:1207,lx:1025}
];
const graphic=[
 T('Time Interval',878,74,{size:72,weight:'bold',family:SANS,color:'#003a8c',align:'center',scaleX:0.815}),
 T('B',410,163,{size:36,weight:'bold',family:CAL,color:'#e5252b',align:'center'}),
 T('C',836,165,{size:36,weight:'bold',family:CAL,color:'#3b8fd4',align:'center'}),
 T('E',1270,165,{size:36,weight:'bold',family:CAL,color:'#6a9a35',align:'center'}),
 T('Rainfall (mm)',170,237,{rot:R90,align:'center',color:'#222'}),
 T(swcName,153,403,{rot:R90,align:'center',rich:swcRich}),
 T(swcName,153,614,{rot:R90,align:'center',rich:swcRich}),
 T('GW level (m)',148,827,{rot:R90,align:'center',color:'#222'}),
 T('River level (m)',130,1003,{rot:R90,align:'center',color:'#222'}),
 T('0.2 m depth',721,360,{size:24,family:CAL,color:'#222'}),
 T('0.25 m depth',677,417,{size:24,family:CAL,color:'#222'}),
 T('0.6 m depth',670,460,{size:24,family:CAL,color:'#222'}),
 T('rainfall',1479,206,{size:28,weight:'bold',family:CAL}),
 T('Upper soil',1479,328,{size:28,weight:'bold',family:CAL}),
 T('pit: Soil water',1479,364,{size:25,weight:'bold',family:CAL}),
 T('content',1479,396,{size:25,weight:'bold',family:CAL}),
 T('Sub-surface',1491,446,{size:24,family:CAL,color:'#222'}),
 T('storm flow',1491,476,{size:24,family:CAL,color:'#222'}),
 T('Lower soil',1487,539,{size:28,weight:'bold',family:CAL}),
 T('pit: Soil water',1487,574,{size:25,weight:'bold',family:CAL}),
 T('content',1487,607,{size:25,weight:'bold',family:CAL}),
 T('Ground level',1484,745,{size:24,family:CAL,color:'#222'}),
 T('Piezometers',1475,822,{size:28,weight:'bold',family:CAL}),
 T('Groundwater',1475,858,{size:28,weight:'bold',family:CAL}),
 T('level',1475,893,{size:28,weight:'bold',family:CAL}),
 T('River level',1487,991,{size:28,weight:'bold',family:CAL}),
 T('Piezometer legend',754,1125,{size:28,weight:'bold',family:CAL,align:'center'}),
 {type:'ellipse',z:100,silent:true,shape:{cx:1275,cy:452,rx:37,ry:31},style:{fill:'rgba(0,0,0,0)',stroke:RED,lineWidth:3}},
 {type:'ellipse',z:100,silent:true,shape:{cx:1266,cy:614,rx:28,ry:60},style:{fill:'rgba(0,0,0,0)',stroke:RED,lineWidth:3}}
].concat(arrow(1474,460,1314,451),arrow(1472,462,1296,563),arrow(1538,769,1474,797));
legendItems.forEach(it=>{
 const s=gwStyle[it.key];
 graphic.push({type:'line',z:100,silent:true,shape:{x1:it.x1,y1:it.y,x2:it.x2,y2:it.y},
  style:{stroke:s.color,lineWidth:4,lineDash:(s.type==='solid'?null:s.type)}});
 graphic.push(T(it.key,it.lx,it.y,{size:20,align:'center',color:'#222'}));
});

const chart=echarts.init(document.getElementById('chart'),null,{renderer:'canvas'});
chart.setOption({animation:false,backgroundColor:'rgba(0,0,0,0)',grid:grid,xAxis:xAxis,yAxis:yAxis,series:series,graphic:graphic});
</script></body></html>
